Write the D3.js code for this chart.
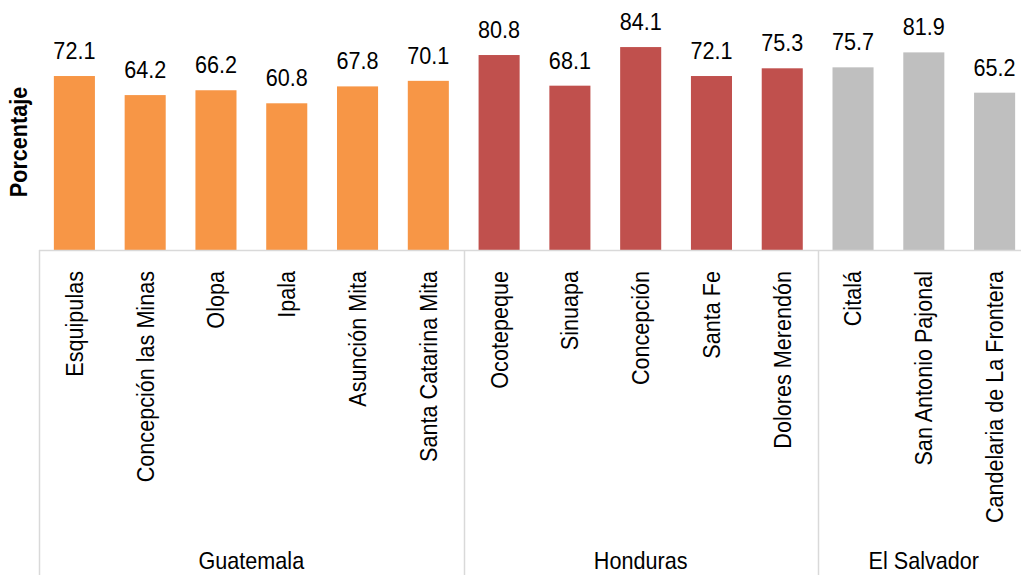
<!DOCTYPE html>
<html><head><meta charset="utf-8">
<script src="https://cdn.jsdelivr.net/npm/d3@7"></script>
<style>
html,body{margin:0;padding:0;background:#fff;overflow:hidden}
text{font-family:"Liberation Sans",Arial,sans-serif;fill:#000}
</style></head>
<body><svg id="c" width="1021" height="575"></svg>
<script>
const categories = ["Esquipulas","Concepción las Minas","Olopa","Ipala","Asunción Mita","Santa Catarina Mita",
  "Ocotepeque","Sinuapa","Concepción","Santa Fe","Dolores Merendón",
  "Citalá","San Antonio Pajonal","Candelaria de La Frontera"];
const values = [72.1,64.2,66.2,60.8,67.8,70.1,80.8,68.1,84.1,72.1,75.3,75.7,81.9,65.2];
const countryOf = ["Guatemala","Guatemala","Guatemala","Guatemala","Guatemala","Guatemala",
  "Honduras","Honduras","Honduras","Honduras","Honduras",
  "El Salvador","El Salvador","El Salvador"];
const countries = ["Guatemala","Honduras","El Salvador"];
const countryColors = ["#F79646","#C0504D","#BFBFBF"];
const yLabel = "Porcentaje";

const svg = d3.select("#c");
const left = 39, right = 1030, base = 250, bottom = 575;
const fs = 24, sx = 0.9;
const x = d3.scaleBand().domain(categories).range([left, right]).paddingInner(0.42).paddingOuter(0.21);
const y = d3.scaleLinear().domain([0,100]).range([base, 8.7]);
const color = d3.scaleOrdinal().domain(countries).range(countryColors);

const data = categories.map((c,i)=>({cat:c, v:values[i], country:countryOf[i]}));

svg.append("g").selectAll("rect").data(data).join("rect")
  .attr("x", d=>x(d.cat)).attr("width", x.bandwidth())
  .attr("y", d=>y(d.v)).attr("height", d=>y(0)-y(d.v))
  .attr("fill", d=>color(d.country));

svg.append("g").selectAll("text").data(data).join("text")
  .attr("transform", d=>`translate(${x(d.cat)+x.bandwidth()/2},${y(d.v)-17}) scale(${sx},1)`)
  .attr("text-anchor","middle").style("font-size",fs+"px")
  .text(d=>d.v.toFixed(1));

// axis lines
const axisColor = "#d9d9d9";
svg.append("line").attr("x1",left).attr("x2",right).attr("y1",base+0.5).attr("y2",base+0.5)
  .attr("stroke",axisColor).attr("stroke-width",1.5);
// group boundaries
const groups = countries.map(g=>{
  const cats = data.filter(d=>d.country===g).map(d=>d.cat);
  return {g, x0: x(cats[0]) - x.step()*x.paddingInner()/2, x1: x(cats[cats.length-1]) + x.bandwidth() + x.step()*x.paddingInner()/2};
});
const bounds = [groups[0].x0, ...groups.map(g=>g.x1)];
svg.append("g").selectAll("line").data(bounds).join("line")
  .attr("x1",d=>Math.round(d)+0.5).attr("x2",d=>Math.round(d)+0.5).attr("y1",base).attr("y2",bottom)
  .attr("stroke",axisColor).attr("stroke-width",1.5);

// category labels
svg.append("g").selectAll("text").data(data).join("text")
  .attr("transform", d=>`translate(${x(d.cat)+x.bandwidth()/2},${base+21}) rotate(-90) scale(${sx},1)`)
  .attr("text-anchor","end").attr("dy","0.35em").style("font-size",fs+"px")
  .text(d=>d.cat);

// group labels
svg.append("g").selectAll("text").data(groups).join("text")
  .attr("transform", d=>`translate(${(d.x0+d.x1)/2},569) scale(${sx},1)`)
  .attr("text-anchor","middle").style("font-size",fs+"px")
  .text(d=>d.g);

// y label
svg.append("text").attr("transform",`translate(26.5,142) rotate(-90) scale(${sx},1)`)
  .attr("text-anchor","middle").style("font-size",fs+"px").style("font-weight","bold")
  .text(yLabel);
</script></body></html>
